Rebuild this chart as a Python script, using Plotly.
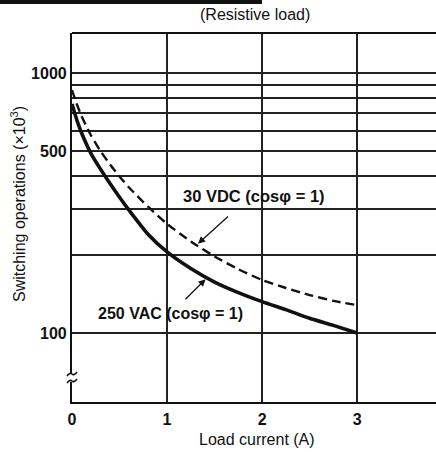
import numpy as np
import plotly.graph_objects as go

# ---- data ----
load_current = [0, 0.05, 0.1, 0.2, 0.3, 0.4, 0.5, 0.6, 0.8, 1.0, 1.25, 1.5, 1.75, 2.0, 2.25, 2.5, 2.75, 3.0]
ops_250vac = [760, 661, 589, 490, 427, 376, 333, 297, 240, 205, 177, 157, 143, 132, 123, 114, 107, 100]
ops_30vdc = [860, 760, 684, 575, 501, 445, 400, 363, 306, 263, 225, 197, 176, 160, 149, 140, 133, 128]
y_tickvals = [100, 200, 300, 400, 500, 600, 700, 800, 900, 1000]
y_ticktext = ["100", "", "", "", "500", "", "", "", "", "1000"]
x_tickvals = [0, 1, 2, 3]
x_ticktext = ["0", "1", "2", "3"]
label_vac = "250 VAC (cos\u03c6 = 1)"
label_vdc = "30 VDC (cos\u03c6 = 1)"

W, H = 436, 452
L, R, T, B = 72, 0, 33, 50
PW, PH = W - L - R, H - T - B

def px(xp):
    return (xp - L) / PW

def py(yp):
    return (H - B - yp) / PH

FONT = "Liberation Sans, Arial, sans-serif"
INK = "#111"

fig = go.Figure()
fig.add_trace(go.Scatter(x=load_current, y=ops_30vdc, mode="lines",
                         line=dict(color=INK, width=2.4, dash="9px,5px", shape="spline", smoothing=0.6),
                         hoverinfo="skip", showlegend=False))
fig.add_trace(go.Scatter(x=load_current, y=ops_250vac, mode="lines",
                         line=dict(color=INK, width=3.6, shape="spline", smoothing=0.6),
                         hoverinfo="skip", showlegend=False))

fig.update_layout(
    width=W, height=H,
    margin=dict(l=L, r=R, t=T, b=B, pad=0),
    paper_bgcolor="white", plot_bgcolor="white",
    font=dict(family=FONT, color=INK, size=16),
    showlegend=False,
    xaxis=dict(range=[0, 3.83], tickvals=x_tickvals, ticktext=x_ticktext,
               showgrid=True, gridcolor="#222", gridwidth=1.5,
               showline=True, linecolor=INK, linewidth=2.2,
               zeroline=False, ticks="", ticklabelstandoff=2,
               tickfont=dict(size=16, weight="bold", family=FONT)),
    yaxis=dict(type="log", range=[np.log10(54.3), np.log10(1425)],
               tickvals=y_tickvals, ticktext=y_ticktext,
               showgrid=True, gridcolor="#222", gridwidth=1.5,
               showline=True, linecolor=INK, linewidth=2.2,
               zeroline=False, ticks="", ticklabelstandoff=0,
               tickfont=dict(size=16, weight="bold", family=FONT)),
)

shapes = []
# top frame line
shapes.append(dict(type="line", xref="paper", yref="paper", x0=0, x1=1, y0=1, y1=1,
                   line=dict(color=INK, width=2)))
# cropped heading bar at very top
shapes.append(dict(type="rect", xref="paper", yref="paper", x0=px(0), x1=px(262),
                   y0=py(4), y1=py(0), fillcolor=INK, line=dict(width=0), layer="above"))
# axis break: white gap + two wavy marks
shapes.append(dict(type="rect", xref="paper", yref="paper", x0=px(69), x1=px(75),
                   y0=py(382), y1=py(374), fillcolor="white", line=dict(width=0)))
for yb in (374, 381):
    path = (f"M {px(67)} {py(yb+2)} Q {px(70)} {py(yb-2)} {px(72)} {py(yb)} "
            f"T {px(77)} {py(yb-2)}")
    shapes.append(dict(type="path", xref="paper", yref="paper", path=path,
                       line=dict(color=INK, width=1.6)))
fig.update_layout(shapes=shapes)

tip_vdc_x = 1.31
tip_vdc_y = float(np.interp(tip_vdc_x, load_current, np.log10(ops_30vdc)))
tip_vac_x = 1.42
tip_vac_y = float(np.interp(tip_vac_x, load_current, np.log10(ops_250vac)))

ann = [
    dict(text="(Resistive load)", xref="paper", yref="paper", x=px(255), y=py(15),
         xanchor="center", yanchor="middle", showarrow=False, font=dict(size=16)),
    dict(text="Load current (A)", xref="paper", yref="paper", x=px(257), y=py(440),
         xanchor="center", yanchor="middle", showarrow=False, font=dict(size=16)),
    dict(text="Switching operations (\u00d710<sup>3</sup>)", xref="paper", yref="paper",
         x=px(18), y=py(204), textangle=-90, xanchor="center", yanchor="middle",
         showarrow=False, font=dict(size=16)),
    dict(text=label_vdc, x=1.92, y=2.527, xanchor="center", yanchor="middle",
         showarrow=False, font=dict(size=16.5, weight="bold")),
    dict(text=label_vac, x=1.04, y=2.077, xanchor="center", yanchor="middle",
         showarrow=False, font=dict(size=16, weight="bold")),
    dict(text="", x=tip_vdc_x, y=tip_vdc_y, showarrow=True, ax=33, ay=-30,
         arrowhead=2, arrowsize=1.1, arrowwidth=1.3, arrowcolor=INK, standoff=2),
    dict(text="", x=tip_vac_x, y=tip_vac_y, showarrow=True, ax=-23, ay=23,
         arrowhead=2, arrowsize=1.1, arrowwidth=1.3, arrowcolor=INK, standoff=2),
]
fig.update_layout(annotations=ann)

fig.write_html("out.html", config={"displayModeBar": False},
               post_script="document.body.style.margin='0';document.body.style.padding='0';")
